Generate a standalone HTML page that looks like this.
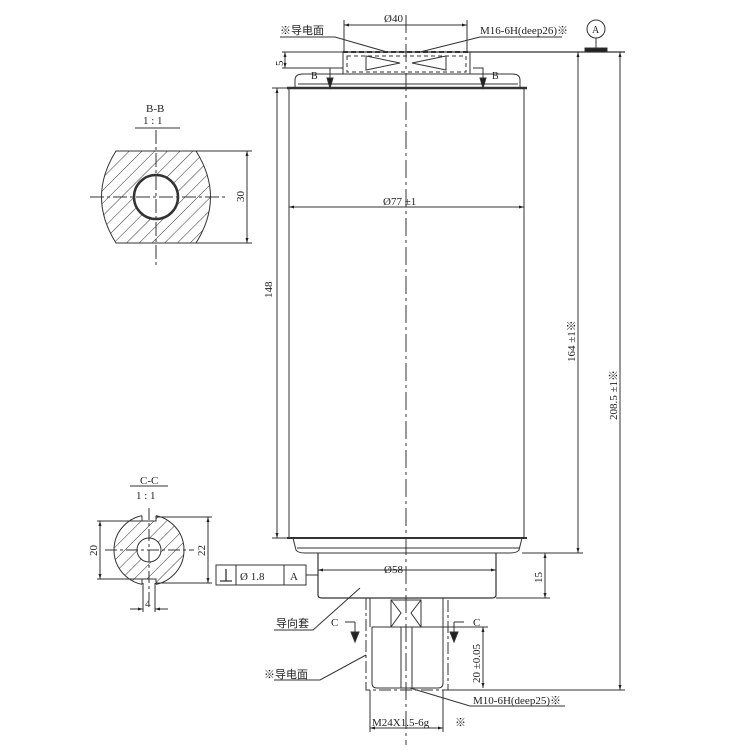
<!DOCTYPE html>
<html><head><meta charset="utf-8"><style>
html,body{margin:0;padding:0;background:#fff;width:750px;height:750px;overflow:hidden}
svg text{font-family:"Liberation Serif","Noto Sans CJK SC",serif;fill:#222}
</style></head><body>
<svg width="750" height="750" viewBox="0 0 750 750" xmlns="http://www.w3.org/2000/svg">
<defs>
<marker id="ar" viewBox="0 0 10 10" refX="10" refY="5" markerWidth="7" markerHeight="5" orient="auto-start-reverse"><path d="M0,2 L10,5 L0,8z" fill="#222"/></marker>
<pattern id="h" width="9" height="9" patternUnits="userSpaceOnUse" patternTransform="rotate(45)"><line x1="0" y1="0" x2="0" y2="9" stroke="#333" stroke-width="1"/></pattern>
</defs>
<g stroke="#333" fill="none" stroke-width="1">
<line x1="406" y1="15" x2="406" y2="745" stroke-dasharray="18,4,3,4"/>
<line x1="343" y1="52" x2="625" y2="52" stroke-width="1.2"/>
<line x1="343" y1="52" x2="470" y2="52" stroke-dasharray="5,3" stroke-width="2"/>
<rect x="343" y="52" width="127" height="22"/>
<rect x="347" y="56" width="119" height="16" stroke-dasharray="4,3"/>
<path d="M366,56 L400,63 L366,70z M446,56 L412,63 L446,70z"/>
<path d="M295,88 L295,80 Q295,74 303,74 L512,74 Q520,74 520,80 L520,88"/>
<line x1="298" y1="84" x2="518" y2="84"/>
<line x1="287" y1="88" x2="527" y2="88" stroke-width="2.5"/>
<path d="M330,88 L330,68 L318,68 M483,88 L483,68 L473,68"/>
<path d="M327,78 L333,78 L330,88z M480,78 L486,78 L483,88z" fill="#222"/>
<rect x="289" y="88" width="235" height="450"/>
<line x1="287" y1="538" x2="527" y2="538" stroke-width="2"/>
<path d="M293,538 L296,550 Q298,553 305,553 L510,553 Q517,553 519,550 L522,538"/>
<line x1="297" y1="548" x2="519" y2="548"/>
<path d="M318,553 L318,595 Q318,598 322,598 L492,598 Q496,598 496,595 L496,553" stroke-width="1.2"/>
<rect x="366" y="598" width="82" height="92" stroke-dasharray="12,3,3,3"/>
<line x1="370" y1="598" x2="370" y2="627"/><line x1="443" y1="598" x2="443" y2="627"/>
<path d="M372,627 L372,683 Q372,688 377,688 L438,688 Q443,688 443,683 L443,627 Z"/>
<line x1="401" y1="627" x2="401" y2="688"/><line x1="412" y1="627" x2="412" y2="688"/>
<rect x="391" y="600" width="30" height="27"/>
<path d="M391,600 L401,613 L391,627 M421,600 L411,613 L421,627"/>
<path d="M345,622 L355,622 M355,622 L355,640 M454,622 L464,622 M454,622 L454,640"/>
<path d="M351,632 L359,632 L355,642z M450,632 L458,632 L454,642z" fill="#222"/>
<line x1="344" y1="25" x2="467" y2="25" marker-start="url(#ar)" marker-end="url(#ar)"/>
<line x1="344" y1="20" x2="344" y2="52"/><line x1="467" y1="20" x2="467" y2="52"/>
<line x1="289" y1="207" x2="524" y2="207" marker-start="url(#ar)" marker-end="url(#ar)"/>
<line x1="318" y1="570" x2="496" y2="570" marker-start="url(#ar)" marker-end="url(#ar)"/>
<line x1="306" y1="575" x2="318" y2="575"/>
<line x1="277" y1="88" x2="277" y2="538" marker-start="url(#ar)" marker-end="url(#ar)"/>
<line x1="272" y1="88" x2="290" y2="88"/><line x1="272" y1="538" x2="290" y2="538"/>
<line x1="285" y1="52" x2="285" y2="68" marker-start="url(#ar)" marker-end="url(#ar)"/>
<line x1="282" y1="52" x2="343" y2="52"/><line x1="282" y1="68" x2="343" y2="68"/>
<line x1="578" y1="52" x2="578" y2="553" marker-start="url(#ar)" marker-end="url(#ar)"/>
<line x1="522" y1="553" x2="583" y2="553"/>
<line x1="620" y1="52" x2="620" y2="690" marker-start="url(#ar)" marker-end="url(#ar)"/>
<line x1="448" y1="690" x2="625" y2="690"/>
<line x1="545" y1="553" x2="545" y2="598" marker-start="url(#ar)" marker-end="url(#ar)"/>
<line x1="496" y1="598" x2="550" y2="598"/>
<line x1="483" y1="627" x2="483" y2="688" marker-start="url(#ar)" marker-end="url(#ar)"/>
<line x1="443" y1="627" x2="488" y2="627"/>
<line x1="370" y1="728" x2="443" y2="728" marker-start="url(#ar)" marker-end="url(#ar)"/>
<line x1="370" y1="690" x2="370" y2="732"/><line x1="443" y1="690" x2="443" y2="732"/>
<circle cx="596" cy="29" r="9"/>
<line x1="596" y1="38" x2="596" y2="48"/>
<rect x="585" y="48" width="22" height="4" fill="#222"/>
<path d="M280,37 L335,37 L387,52"/>
<path d="M480,37 L562,37 M480,37 L420,52"/>
<path d="M274,630 L313,630 L360,588"/>
<path d="M274,680 L320,680 L366,655"/>
<path d="M470,706 L565,706 M470,706 L410,688"/>
<rect x="216" y="565" width="90" height="20"/>
<line x1="236" y1="565" x2="236" y2="585"/><line x1="284" y1="565" x2="284" y2="585"/>
<path d="M220,581 L232,581 M226,569 L226,581" stroke-width="1.3"/>
<!-- B-B -->
<line x1="135" y1="128" x2="180" y2="128"/>
<path d="M116,151 L196,151 Q225,197 196,243 L116,243 Q87,197 116,151z" fill="url(#h)"/>
<circle cx="156" cy="197" r="22" fill="#fff" stroke-width="2.5"/>
<line x1="156" y1="130" x2="156" y2="265" stroke-dasharray="14,3,3,3"/>
<line x1="90" y1="197" x2="226" y2="197" stroke-dasharray="14,3,3,3"/>
<line x1="247" y1="151" x2="247" y2="243" marker-start="url(#ar)" marker-end="url(#ar)"/>
<line x1="196" y1="151" x2="252" y2="151"/><line x1="196" y1="243" x2="252" y2="243"/>
<!-- C-C -->
<line x1="130" y1="486" x2="168" y2="486"/>
<circle cx="149" cy="550" r="35" fill="url(#h)"/>
<rect x="142" y="513" width="14" height="8" fill="#fff" stroke="none"/>
<rect x="142" y="579" width="14" height="8" fill="#fff" stroke="none"/>
<path d="M142,515.7 L142,521 L156,521 L156,515.7 M142,584.3 L142,579 L156,579 L156,584.3"/>
<circle cx="149" cy="550" r="12" fill="#fff"/>
<line x1="149" y1="508" x2="149" y2="600" stroke-dasharray="12,3,3,3"/>
<line x1="105" y1="550" x2="194" y2="550" stroke-dasharray="12,3,3,3"/>
<line x1="100" y1="521" x2="100" y2="579" marker-start="url(#ar)" marker-end="url(#ar)"/>
<line x1="97" y1="521" x2="142" y2="521"/><line x1="97" y1="579" x2="142" y2="579"/>
<line x1="208" y1="517" x2="208" y2="583" marker-start="url(#ar)" marker-end="url(#ar)"/>
<line x1="156" y1="517" x2="212" y2="517"/><line x1="156" y1="583" x2="212" y2="583"/>
<line x1="143" y1="583" x2="143" y2="612"/><line x1="155" y1="583" x2="155" y2="612"/>
<line x1="130" y1="609" x2="143" y2="609" marker-end="url(#ar)"/>
<line x1="168" y1="609" x2="155" y2="609" marker-end="url(#ar)"/>
</g>
<g font-size="11">
<text x="384" y="22">Ø40</text>
<text x="280" y="34">※导电面</text>
<text x="480" y="34">M16-6H(deep26)※</text>
<text x="592" y="33" font-size="10">A</text>
<text x="311" y="79" font-size="10">B</text>
<text x="492" y="79" font-size="10">B</text>
<text x="383" y="205">Ø77 ±1</text>
<text x="384" y="573">Ø58</text>
<text x="240" y="580">Ø 1.8</text>
<text x="290" y="580">A</text>
<text x="276" y="627">导向套</text>
<text x="331" y="626">C</text>
<text x="473" y="626">C</text>
<text x="264" y="678">※导电面</text>
<text x="473" y="704">M10-6H(deep25)※</text>
<text x="372" y="726">M24X1.5-6g</text>
<text x="455" y="726">※</text>
<text x="146" y="112">B-B</text>
<text x="143" y="124">1 : 1</text>
<text x="140" y="484">C-C</text>
<text x="136" y="499">1 : 1</text>
<text x="145" y="607">4</text>
<text transform="translate(244,202) rotate(-90)">30</text>
<text transform="translate(97,556) rotate(-90)">20</text>
<text transform="translate(205,556) rotate(-90)">22</text>
<text transform="translate(272,298) rotate(-90)">148</text>
<text transform="translate(283,66) rotate(-90)">5</text>
<text transform="translate(575,362) rotate(-90)">164 ±1※</text>
<text transform="translate(617,420) rotate(-90)">208.5 ±1※</text>
<text transform="translate(542,583) rotate(-90)">15</text>
<text transform="translate(480,683) rotate(-90)">20 ±0.05</text>
</g>
</svg>
</body></html>
